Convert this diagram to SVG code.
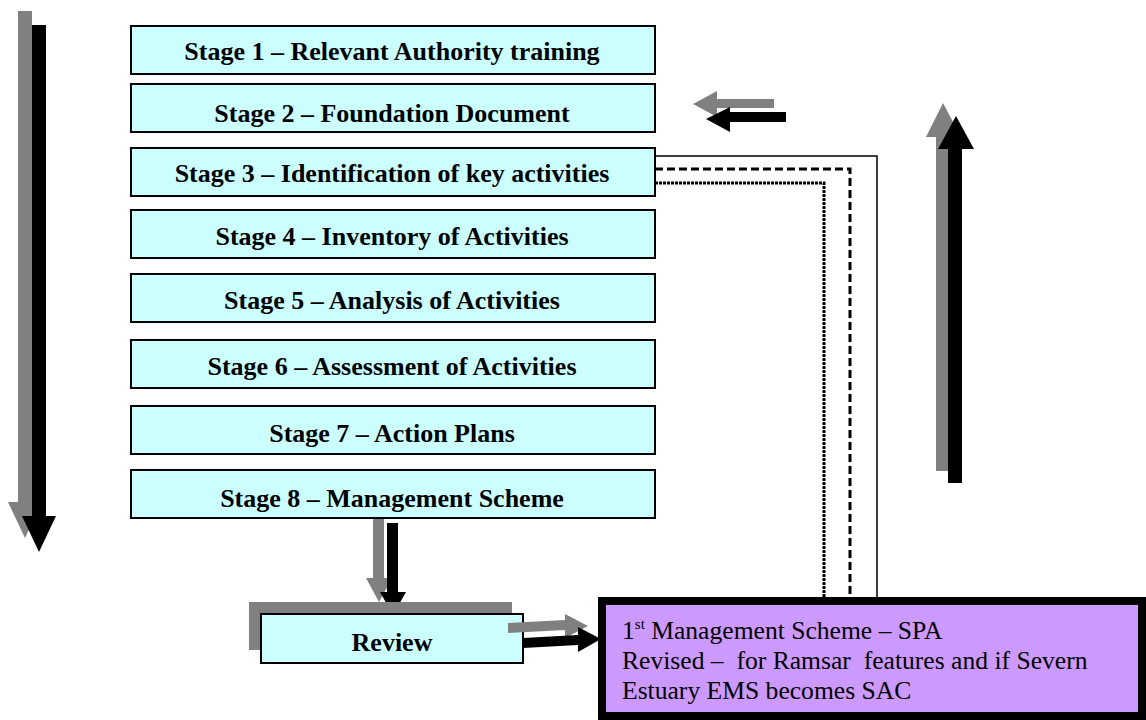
<svg xmlns="http://www.w3.org/2000/svg" width="1146" height="720" viewBox="0 0 1146 720">
<style>
.stage rect{fill:#ccffff;stroke:#000;stroke-width:2}
.gray{fill:#808080}
.blk{fill:#000}
</style>
<rect width="1146" height="720" fill="#fff"/>
<g id="arrows">
  <g id="arrow-left">
    <polygon class="gray" points="18,11 32,11 32,502 42,502 25,538 8,502 18,502"/>
    <polygon class="blk" points="32,25 46,25 46,516 56,516 39,552 22,516 32,516"/>
  </g>
  <g id="arrow-right">
    <polygon class="gray" points="936,471 950,471 950,137 961,137 943,103 926,137 936,137"/>
    <polygon class="blk" points="948,483 962,483 962,149 974,149 956,116 938,149 948,149"/>
  </g>
  <g id="arrow-stage2">
    <polygon class="gray" points="774,99 774,108 717,108 717,117 693,104 717,91 717,99"/>
    <polygon class="blk" points="786,112 786,122 730,122 730,132 706,119 730,107 730,112"/>
  </g>
</g>
<g id="connectors" fill="none" stroke="#000">
  <polyline points="655,156 877,156 877,598" stroke-width="1.5"/>
  <polyline points="655,169 850,169 850,598" stroke-width="3" stroke-dasharray="8,4"/>
  <polyline points="655,183 824,183 824,598" stroke-width="3" stroke-dasharray="3,1"/>
  <polygon class="gray" stroke="none" points="373,509 384,509 384,578 392,578 379,602 366,578 373,578"/>
  <polygon class="blk" stroke="none" points="387,523 398,523 398,592 406,592 393,615 380,592 387,592"/>
</g>
<g font-family="Liberation Serif, Times New Roman, serif" font-weight="bold" font-size="26" text-anchor="middle" fill="#000">
<g id="stage1" class="stage"><rect x="131" y="26" width="524" height="48"/><text x="392" y="60">Stage 1 – Relevant Authority training</text></g>
<g id="stage2" class="stage"><rect x="131" y="84" width="524" height="48"/><text x="392" y="122">Stage 2 – Foundation Document</text></g>
<g id="stage3" class="stage"><rect x="131" y="148" width="524" height="48"/><text x="392" y="182">Stage 3 – Identification of key activities</text></g>
<g id="stage4" class="stage"><rect x="131" y="210" width="524" height="48"/><text x="392" y="245">Stage 4 – Inventory of Activities</text></g>
<g id="stage5" class="stage"><rect x="131" y="274" width="524" height="48"/><text x="392" y="309">Stage 5 – Analysis of Activities</text></g>
<g id="stage6" class="stage"><rect x="131" y="340" width="524" height="48"/><text x="392" y="375">Stage 6 – Assessment of Activities</text></g>
<g id="stage7" class="stage"><rect x="131" y="406" width="524" height="48"/><text x="392" y="442">Stage 7 – Action Plans</text></g>
<g id="stage8" class="stage"><rect x="131" y="470" width="524" height="48"/><text x="392" y="507">Stage 8 – Management Scheme</text></g>
<g id="review">
  <rect x="249" y="602" width="263" height="48" fill="#808080"/>
  <rect x="261" y="614" width="262" height="49" fill="#ccffff" stroke="#000" stroke-width="2"/>
  <text x="392" y="651">Review</text>
</g>
</g>
<g id="review-arrows">
  <polygon class="gray" points="508,623 565,620 565,614 588,626 565,638 565,630 508,633"/>
  <polygon class="blk" points="523,638 578,635 578,627 601,639 578,652 578,645 523,648"/>
</g>
<g id="scheme" font-family="Liberation Serif, Times New Roman, serif" font-size="25.6" fill="#000">
  <rect x="602" y="601" width="540" height="115" fill="#cc99ff" stroke="#000" stroke-width="8"/>
  <text x="622" y="639">1<tspan font-size="15" dy="-10">st</tspan><tspan dy="10"> Management Scheme – SPA</tspan></text>
  <text x="622" y="669" xml:space="preserve">Revised –  for Ramsar  features and if Severn</text>
  <text x="622" y="699">Estuary EMS becomes SAC</text>
</g>
</svg>
